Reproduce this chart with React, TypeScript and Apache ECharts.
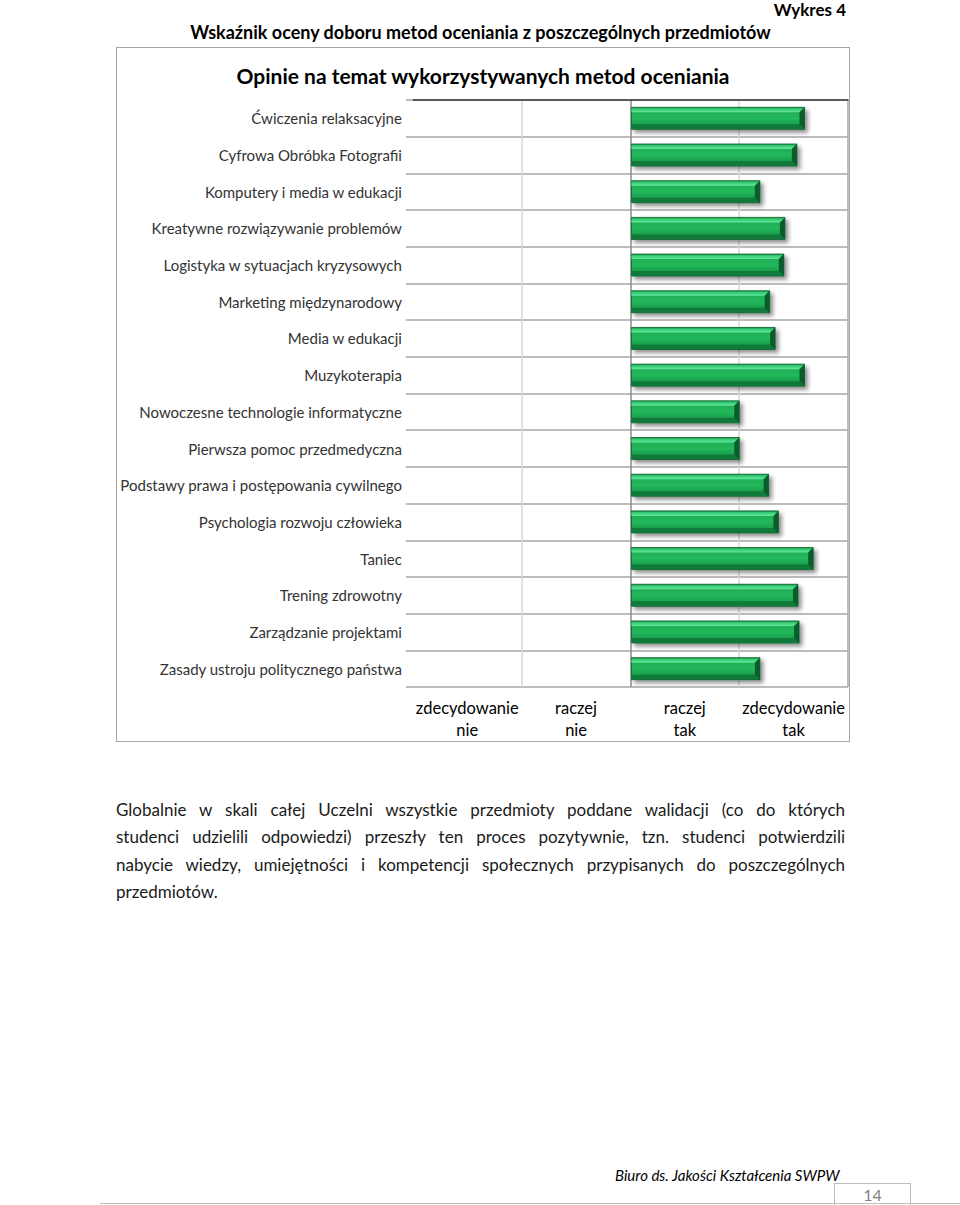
import React, { useEffect, useRef } from "react";
import * as echarts from "echarts";

const categories: string[] = [
  "Ćwiczenia relaksacyjne",
  "Cyfrowa Obróbka Fotografii",
  "Komputery i media w edukacji",
  "Kreatywne rozwiązywanie problemów",
  "Logistyka w sytuacjach kryzysowych",
  "Marketing międzynarodowy",
  "Media w edukacji",
  "Muzykoterapia",
  "Nowoczesne technologie informatyczne",
  "Pierwsza pomoc przedmedyczna",
  "Podstawy prawa i postępowania cywilnego",
  "Psychologia rozwoju człowieka",
  "Taniec",
  "Trening zdrowotny",
  "Zarządzanie projektami",
  "Zasady ustroju politycznego państwa",
];

// score on a 0..4 axis; bars start at the axis crossing (2)
const scores: number[] = [
  3.6, 3.53, 3.19, 3.42, 3.41, 3.28, 3.33, 3.6, 3.0, 3.0, 3.27, 3.36, 3.68,
  3.54, 3.55, 3.19,
];

const scaleLabels: string[] = [
  "zdecydowanie\nnie",
  "raczej\nnie",
  "raczej\ntak",
  "zdecydowanie\ntak",
];

const AXIS_CROSS = 2;

const FONT = "Lato, 'Open Sans', sans-serif";

const paragraphLines: string[] = [
  "Globalnie w skali całej Uczelni wszystkie przedmioty poddane walidacji (co do których",
  "studenci udzielili odpowiedzi) przeszły ten proces pozytywnie, tzn. studenci potwierdzili",
  "nabycie wiedzy, umiejętności i kompetencji społecznych przypisanych do poszczególnych",
  "przedmiotów.",
];

function Chart() {
  const ref = useRef<HTMLDivElement>(null);
  useEffect(() => {
    if (!ref.current) return;
    const chart = echarts.init(ref.current, undefined, { renderer: "svg" });
    const data = categories.map((c, i) => [scores[i], c]);
    chart.setOption({
      animation: false,
      title: {
        text: "Opinie na temat wykorzystywanych metod oceniania",
        left: "center",
        top: 12,
        textStyle: {
          fontFamily: FONT,
          fontSize: 21,
          fontWeight: "bold",
          color: "#000",
        },
      },
      grid: { left: 294, right: 1, top: 52, bottom: 54 },
      xAxis: [
        {
          type: "category",
          position: "bottom",
          data: scaleLabels,
          boundaryGap: true,
          axisLine: {
            show: true,
            lineStyle: {
              color: "#a6a6a6",
              width: 2,
              shadowColor: "rgba(0,0,0,0.35)",
              shadowBlur: 3,
              shadowOffsetY: 2,
            },
          },
          axisTick: { show: false },
          splitLine: { show: false },
          axisLabel: {
            interval: 0,
            fontFamily: FONT,
            fontSize: 16.5,
            lineHeight: 22,
            color: "#000",
            margin: 10,
          },
        },
        {
          type: "value",
          position: "top",
          min: 0,
          max: 4,
          interval: 1,
          axisLine: { show: true, lineStyle: { color: "#3a3a3a", width: 1.5 } },
          axisTick: { show: false },
          axisLabel: { show: false },
          splitLine: {
            show: true,
            lineStyle: {
              color: ["rgba(0,0,0,0)", "#d9d9d9", "#8c8c8c", "#d9d9d9", "#a6a6a6"],
              width: 1.5,
            },
          },
        },
      ],
      yAxis: {
        type: "category",
        data: categories,
        inverse: true,
        boundaryGap: true,
        axisLine: { show: false },
        axisTick: { show: true, length: 7, lineStyle: { color: "#a6a6a6", width: 1.5 } },
        splitLine: { show: true, lineStyle: { color: "#a6a6a6", width: 1.5 } },
        axisLabel: {
          fontFamily: FONT,
          fontSize: 15,
          color: "#333",
          margin: 11,
        },
      },
      series: [
        {
          type: "custom",
          xAxisIndex: 1,
          yAxisIndex: 0,
          encode: { x: 0, y: 1 },
          data,
          renderItem: (params: any, api: any) => {
            const val = api.value(0);
            const catIdx = api.value(1);
            const start = api.coord([AXIS_CROSS, catIdx]);
            const end = api.coord([val, catIdx]);
            const h = api.size([0, 1])[1] * 0.6;
            const x0 = start[0] + 1;
            const x1 = end[0];
            const y0 = end[1] - h / 2;
            const y1 = end[1] + h / 2;
            const w = x1 - x0;
            const b = 5;
            return {
              type: "group",
              children: [
                {
                  type: "rect",
                  shape: { x: x0, y: y0, width: w, height: h },
                  style: {
                    fill: new echarts.graphic.LinearGradient(0, 0, 0, 1, [
                      { offset: 0, color: "#1ea650" },
                      { offset: 0.5, color: "#22b85b" },
                      { offset: 1, color: "#138a42" },
                    ]),
                    stroke: "#0b5a2a",
                    lineWidth: 0.8,
                    shadowColor: "rgba(0,0,0,0.45)",
                    shadowBlur: 4,
                    shadowOffsetX: 3,
                    shadowOffsetY: 3,
                  },
                },
                {
                  type: "polygon",
                  shape: {
                    points: [
                      [x0, y0 + 1],
                      [x1, y0 + 1],
                      [x1 - b, y0 + b],
                      [x0, y0 + b],
                    ],
                  },
                  style: {
                    fill: new echarts.graphic.LinearGradient(0, 0, 0, 1, [
                      { offset: 0, color: "#2cc46a" },
                      { offset: 1, color: "#62e89e" },
                    ]),
                  },
                },
                {
                  type: "polygon",
                  shape: {
                    points: [
                      [x0, y1 - 0.5],
                      [x1, y1 - 0.5],
                      [x1 - b, y1 - b],
                      [x0, y1 - b],
                    ],
                  },
                  style: { fill: "#0f7a3a" },
                },
                {
                  type: "polygon",
                  shape: {
                    points: [
                      [x1, y0],
                      [x1, y1],
                      [x1 - b, y1 - b],
                      [x1 - b, y0 + b],
                    ],
                  },
                  style: { fill: "#0b5c2c" },
                },
              ],
            };
          },
        },
      ],
    });
    return () => chart.dispose();
  }, []);
  return <div ref={ref} style={{ width: 732, height: 693 }} />;
}

export default function App() {
  return (
    <div
      style={{
        position: "absolute",
        left: 0,
        top: 0,
        width: 960,
        height: 1205,
        background: "#fff",
        fontFamily: FONT,
        color: "#000",
        overflow: "hidden",
      }}
    >
      <div
        style={{
          position: "absolute",
          right: 114,
          top: 0,
          fontSize: 17,
          fontWeight: "bold",
          lineHeight: "20px",
        }}
      >
        Wykres 4
      </div>
      <div
        style={{
          position: "absolute",
          left: 0,
          width: 961,
          top: 22,
          textAlign: "center",
          fontSize: 18,
          fontWeight: "bold",
          lineHeight: "20px",
        }}
      >
        Wskaźnik oceny doboru metod oceniania z poszczególnych przedmiotów
      </div>
      <div
        style={{
          position: "absolute",
          left: 116,
          top: 47,
          border: "1px solid #a6a6a6",
          width: 732,
          height: 693,
        }}
      >
        <Chart />
      </div>
      <div
        style={{
          position: "absolute",
          left: 116,
          top: 796,
          width: 729,
          fontSize: 17,
          lineHeight: "27.3px",
          color: "#1a1a1a",
        }}
      >
        {paragraphLines.map((l, i) => (
          <div
            key={i}
            style={{
              whiteSpace: "nowrap",
              textAlign: "justify",
              textAlignLast: i < paragraphLines.length - 1 ? "justify" : "left",
            }}
          >
            {l}
          </div>
        ))}
      </div>
      <div
        style={{
          position: "absolute",
          left: 615,
          top: 1166,
          fontSize: 15,
          fontStyle: "italic",
          lineHeight: "18px",
        }}
      >
        Biuro ds. Jakości Kształcenia SWPW
      </div>
      <div
        style={{
          position: "absolute",
          left: 834,
          top: 1183,
          width: 75,
          height: 21,
          borderTop: "1.5px solid #bfbfbf",
          borderLeft: "1.5px solid #bfbfbf",
          borderRight: "1.5px solid #bfbfbf",
          textAlign: "center",
          color: "#808080",
          fontSize: 16,
          lineHeight: "22px",
        }}
      >
        14
      </div>
      <div
        style={{
          position: "absolute",
          left: 100,
          top: 1203,
          width: 860,
          height: 0,
          borderTop: "1.5px solid #bfbfbf",
        }}
      />
    </div>
  );
}
